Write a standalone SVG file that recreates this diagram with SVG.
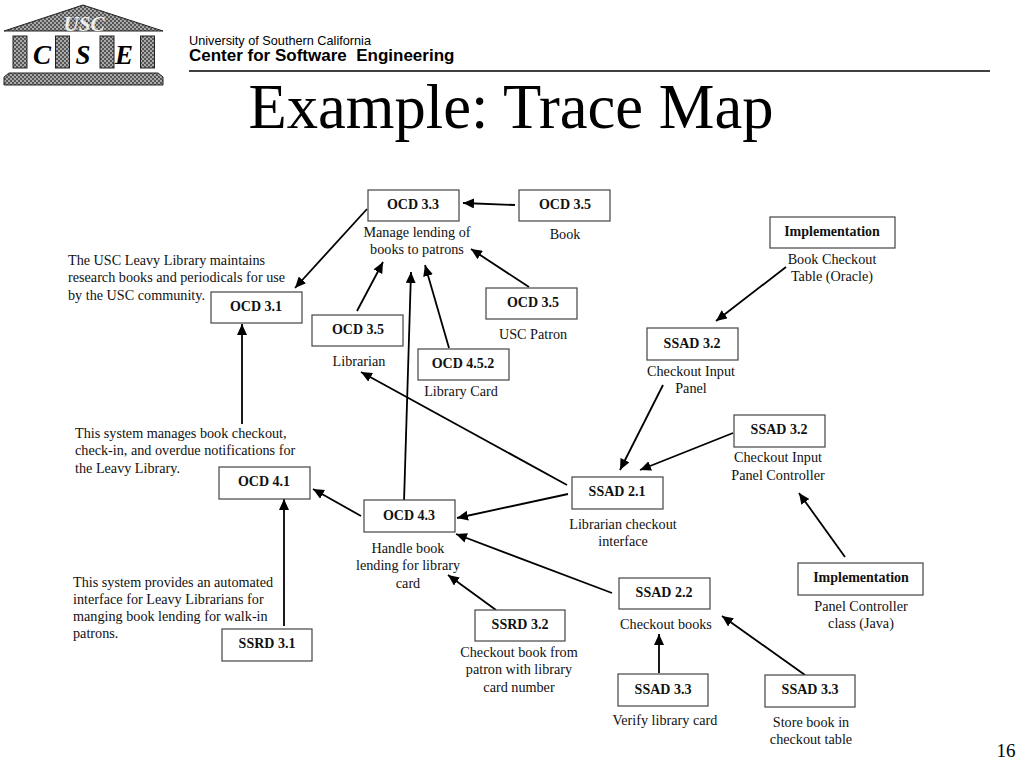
<svg xmlns="http://www.w3.org/2000/svg" width="1024" height="768" viewBox="0 0 1024 768">
<style>
text{font-family:"Liberation Serif","Times New Roman",serif;font-size:14.2px;fill:#111}
.c{text-anchor:middle}
.b{font-weight:bold;font-size:14px;text-anchor:middle}
.n{fill:#fff;stroke:#444;stroke-width:1.2}
.e{fill:none;stroke:#000;stroke-width:1.8;marker-end:url(#a)}
.l{font-family:"Liberation Serif",serif;font-weight:bold;font-style:italic;font-size:27px;text-anchor:middle;fill:#000}
</style>
<defs>
<marker id="a" markerUnits="userSpaceOnUse" markerWidth="12" markerHeight="10" refX="11" refY="5" orient="auto"><path d="M0 0L11 5L0 10z" fill="#000"/></marker>
<pattern id="p" width="4" height="4" patternUnits="userSpaceOnUse"><rect width="4" height="4" fill="#555"/><rect width="2" height="2" fill="#aaa"/><rect x="2" y="2" width="2" height="2" fill="#aaa"/></pattern>
</defs>
<rect width="1024" height="768" fill="#fff"/>
<g id="logo">
<path d="M4 31L83 5L163 31z" fill="url(#p)" stroke="#222"/>
<text x="84" y="31" style="font-size:21px;font-style:italic;font-weight:bold;text-anchor:middle;fill:#eee">USC</text>
<rect x="13" y="36" width="14" height="32" fill="url(#p)" stroke="#222"/>
<rect x="55.500" y="36" width="14" height="32" fill="url(#p)" stroke="#222"/>
<rect x="100" y="36" width="14" height="32" fill="url(#p)" stroke="#222"/>
<rect x="140.500" y="36" width="14" height="32" fill="url(#p)" stroke="#222"/>
<text x="42" y="64" class="l">C</text><text x="83" y="64" class="l">S</text><text x="124" y="64" class="l">E</text>
<path d="M9 73H158L163 77V85H4V77z" fill="url(#p)" stroke="#222"/>
</g>
<g id="header">
<text x="189" y="45" style="font-family:'Liberation Sans',sans-serif;font-size:12.7px;fill:#000">University of Southern California</text>
<text x="189" y="61" style="font-family:'Liberation Sans',sans-serif;font-size:17px;font-weight:bold;fill:#000" xml:space="preserve">Center for Software  Engineering</text>
<path d="M189 71H990" stroke="#000" stroke-width="1.5"/>
<text x="511" y="128" style="font-size:62.6px;text-anchor:middle;fill:#000">Example: Trace Map</text>
<text x="1006" y="757" style="font-size:19px;text-anchor:middle;fill:#000">16</text>
</g>
<g id="connectors">
<path class="e" d="M515 205L463 203"/>
<path class="e" d="M367 209L295 288"/>
<path class="e" d="M529 287L471 249"/>
<path class="e" d="M357 311L383 262"/>
<path class="e" d="M449 348L425 265"/>
<path class="e" d="M404 502L411 272"/>
<path class="e" d="M567 485L361 372"/>
<path class="e" d="M242 424V324"/>
<path class="e" d="M361 516L313 489"/>
<path class="e" d="M568 494L457 518"/>
<path class="e" d="M284 626V499"/>
<path class="e" d="M496 610L448 575"/>
<path class="e" d="M612 593L456 534"/>
<path class="e" d="M659 673V634"/>
<path class="e" d="M805 675L722 616"/>
<path class="e" d="M786 267L716 321"/>
<path class="e" d="M663 385L620 470"/>
<path class="e" d="M733 433L640 470"/>
<path class="e" d="M845 557L799 493"/>
</g>
<g id="n1"><rect class="n" x="368" y="190" width="91" height="31"/><text class="b" x="413" y="209">OCD 3.3</text><text class="c" x="417" y="237">Manage lending of</text><text class="c" x="417" y="254">books to patrons</text></g>
<g id="n2"><rect class="n" x="519" y="190" width="91" height="31"/><text class="b" x="565" y="209">OCD 3.5</text><text class="c" x="565" y="239">Book</text></g>
<g id="n3"><rect class="n" x="211" y="292" width="91" height="31"/><text class="b" x="256" y="311">OCD 3.1</text></g>
<g id="n4"><rect class="n" x="312" y="315" width="91" height="31"/><text class="b" x="358" y="334">OCD 3.5</text><text class="c" x="359" y="366">Librarian</text></g>
<g id="n5"><rect class="n" x="486" y="288" width="91" height="31"/><text class="b" x="533" y="307">OCD 3.5</text><text class="c" x="533" y="339">USC Patron</text></g>
<g id="n6"><rect class="n" x="418" y="349" width="91" height="31"/><text class="b" x="463" y="368">OCD 4.5.2</text><text class="c" x="461" y="396">Library Card</text></g>
<g id="n7"><rect class="n" x="770" y="217" width="125" height="31"/><text class="b" x="832" y="236">Implementation</text><text class="c" x="832" y="264">Book Checkout</text><text class="c" x="832" y="281">Table (Oracle)</text></g>
<g id="n8"><rect class="n" x="647" y="328" width="91" height="32"/><text class="b" x="692" y="348">SSAD 3.2</text><text class="c" x="691" y="376">Checkout Input</text><text class="c" x="691" y="393">Panel</text></g>
<g id="n9"><rect class="n" x="734" y="415" width="91" height="32"/><text class="b" x="779" y="434">SSAD 3.2</text><text class="c" x="778" y="462">Checkout Input</text><text class="c" x="778" y="480">Panel Controller</text></g>
<g id="n10"><rect class="n" x="572" y="477" width="91" height="32"/><text class="b" x="617" y="496">SSAD 2.1</text><text class="c" x="623" y="529">Librarian checkout</text><text class="c" x="623" y="546">interface</text></g>
<g id="n11"><rect class="n" x="219" y="467" width="91" height="32"/><text class="b" x="264" y="486">OCD 4.1</text></g>
<g id="n12"><rect class="n" x="364" y="500" width="91" height="32"/><text class="b" x="409" y="520">OCD 4.3</text><text class="c" x="408" y="553">Handle book</text><text class="c" x="408" y="570">lending for library</text><text class="c" x="408" y="588">card</text></g>
<g id="n13"><rect class="n" x="798" y="563" width="125" height="32"/><text class="b" x="861" y="582">Implementation</text><text class="c" x="861" y="611">Panel Controller</text><text class="c" x="861" y="628">class (Java)</text></g>
<g id="n14"><rect class="n" x="619" y="578" width="91" height="31"/><text class="b" x="664" y="597">SSAD 2.2</text><text class="c" x="666" y="629">Checkout books</text></g>
<g id="n15"><rect class="n" x="475" y="610" width="90" height="31"/><text class="b" x="520" y="629">SSRD 3.2</text><text class="c" x="519" y="657">Checkout book from</text><text class="c" x="519" y="674">patron with library</text><text class="c" x="519" y="692">card number</text></g>
<g id="n16"><rect class="n" x="222" y="629" width="90" height="32"/><text class="b" x="267" y="648">SSRD 3.1</text></g>
<g id="n17"><rect class="n" x="618" y="674" width="90" height="32"/><text class="b" x="663" y="694">SSAD 3.3</text><text class="c" x="665" y="725">Verify library card</text></g>
<g id="n18"><rect class="n" x="765" y="675" width="90" height="32"/><text class="b" x="810" y="694">SSAD 3.3</text><text class="c" x="811" y="727">Store book in</text><text class="c" x="811" y="744">checkout table</text></g>
<g id="notes">
<text x="68" y="265">The USC Leavy Library maintains</text><text x="68" y="282">research books and periodicals for use</text><text x="68" y="300">by the USC community.</text>
<text x="75" y="438">This system manages book checkout,</text><text x="75" y="455">check-in, and overdue notifications for</text><text x="75" y="473">the Leavy Library.</text>
<text x="73" y="587">This system provides an automated</text><text x="73" y="604">interface for Leavy Librarians for</text><text x="73" y="621">manging book lending for walk-in</text><text x="73" y="638">patrons.</text>
</g>
</svg>
